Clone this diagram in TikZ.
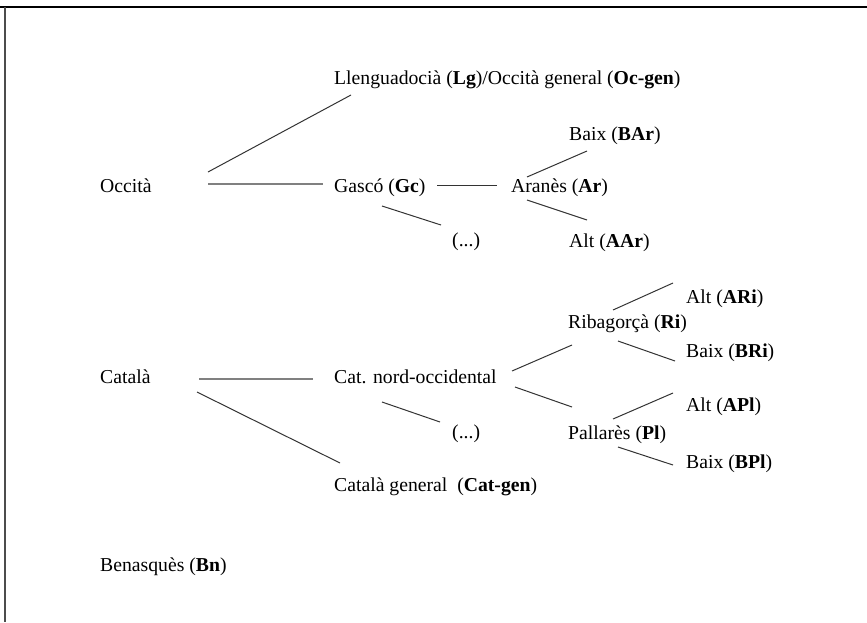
\documentclass[tikz,border=0pt]{standalone}
\usepackage{fontspec}
\setmainfont{Liberation Serif}
\begin{document}
\begin{tikzpicture}[x=1pt,y=-1pt,
  lbl/.style={anchor=base west, inner sep=0pt, font=\fontsize{19.7}{23}\selectfont},
  ln/.style={black!80, line width=1pt},
  hl/.style={black!50, line width=1.6pt}]
\useasboundingbox (0,0) rectangle (867,622);
% frame
\draw[black, line width=2pt] (0,7) -- (867,7);
\draw[black!70, line width=2pt] (5,7) -- (5,622);
% labels
\node[lbl] (oc)  at (100,192) {Occità};
\node[lbl] (lg)  at (334,84)  {Llenguadocià (\textbf{Lg})/Occità general (\textbf{Oc-gen})};
\node[lbl] (gc)  at (334,192) {Gascó (\textbf{Gc})};
\node[lbl] (ar)  at (511,192) {Aranès (\textbf{Ar})};
\node[lbl] (bar) at (569,140) {Baix (\textbf{BAr})};
\node[lbl] (aar) at (569,247) {Alt (\textbf{AAr})};
\node[lbl] (d1)  at (452,246) {(...)};
\node[lbl] (ca)  at (100,383) {Català};
\node[lbl] (cn)  at (334,383) {Cat. nord-occidental};
\node[lbl] (cg)  at (334,491) {Català general~~(\textbf{Cat-gen})};
\node[lbl] (d2)  at (452,438) {(...)};
\node[lbl] (ri)  at (568,328) {Ribagorçà (\textbf{Ri})};
\node[lbl] (pl)  at (568,439) {Pallarès (\textbf{Pl})};
\node[lbl] (ari) at (686,303) {Alt (\textbf{ARi})};
\node[lbl] (bri) at (686,357) {Baix (\textbf{BRi})};
\node[lbl] (apl) at (686,411) {Alt (\textbf{APl})};
\node[lbl] (bpl) at (686,468) {Baix (\textbf{BPl})};
\node[lbl] (bn)  at (100,571) {Benasquès (\textbf{Bn})};
% connectors
\draw[ln] ([shift={(108,-20)}]oc.base west) -- ([shift={(17,11)}]lg.base west);
\draw[hl] ([shift={(108,-8)}]oc.base west) -- ([shift={(-11,-8)}]gc.base west);
\draw[ln] ([shift={(103,-7)}]gc.base west) -- ([shift={(-14,-7)}]ar.base west);
\draw[ln] ([shift={(48,14)}]gc.base west) -- ([shift={(-11,-21)}]d1.base west);
\draw[ln] ([shift={(16,-15)}]ar.base west) -- ([shift={(18,11)}]bar.base west);
\draw[ln] ([shift={(16,8)}]ar.base west) -- ([shift={(18,-27)}]aar.base west);
\draw[hl] ([shift={(99,-4)}]ca.base west) -- ([shift={(-21,-4)}]cn.base west);
\draw[ln] ([shift={(97,9)}]ca.base west) -- ([shift={(6,-28)}]cg.base west);
\draw[ln] ([shift={(48,19)}]cn.base west) -- ([shift={(-12,-16)}]d2.base west);
\draw[ln] ([shift={(178,-12)}]cn.base west) -- ([shift={(4,17)}]ri.base west);
\draw[ln] ([shift={(181,4)}]cn.base west) -- ([shift={(4,-32)}]pl.base west);
\draw[ln] ([shift={(45,-18)}]ri.base west) -- ([shift={(-13,-20)}]ari.base west);
\draw[ln] ([shift={(50,13)}]ri.base west) -- ([shift={(-11,4)}]bri.base west);
\draw[ln] ([shift={(45,-20)}]pl.base west) -- ([shift={(-13,-18)}]apl.base west);
\draw[ln] ([shift={(50,8)}]pl.base west) -- ([shift={(-13,-3)}]bpl.base west);
\end{tikzpicture}
\end{document}
